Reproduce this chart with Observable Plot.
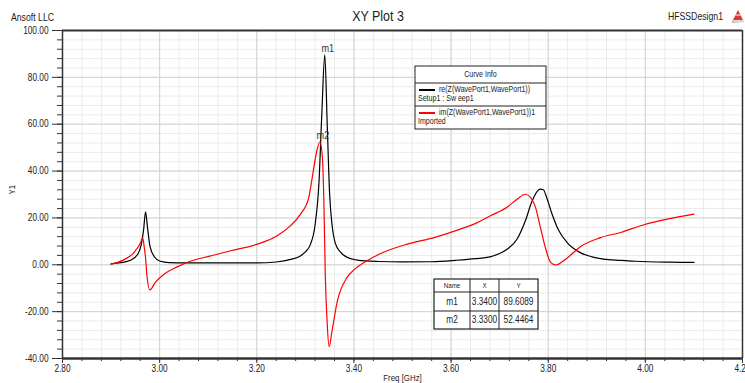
<!DOCTYPE html>
<html>
<head>
<meta charset="utf-8">
<script src="https://cdn.jsdelivr.net/npm/d3@7"></script>
<script src="https://cdn.jsdelivr.net/npm/@observablehq/plot@0.6"></script>
<style>
  html, body { margin: 0; padding: 0; background: #fff; }
  #chart { width: 745px; height: 383px; overflow: hidden; }
</style>
</head>
<body>
<div id="chart"></div>
<script>
// ---------------- data ----------------
const titleText = "XY Plot 3";
const companyText = "Ansoft LLC";
const designText = "HFSSDesign1";
const xLabel = "Freq [GHz]";
const yLabel = "Y1";

const xMajorTicks = [2.8, 3.0, 3.2, 3.4, 3.6, 3.8, 4.0, 4.2];
const yMajorTicks = [-40, -20, 0, 20, 40, 60, 80, 100];
const xMinorStep = 0.04;
const yMinorStep = 4;

// re(Z(WavePort1,WavePort1)) – Setup1 : Sweep1
const freqRe = [2.90, 2.92, 2.94, 2.955, 2.962, 2.967, 2.971, 2.975, 2.98, 2.99, 3.00, 3.02, 3.05, 3.10, 3.15, 3.20, 3.24, 3.27, 3.29, 3.30, 3.31, 3.32, 3.328, 3.334, 3.340, 3.345, 3.350, 3.355, 3.362, 3.372, 3.386, 3.407, 3.45, 3.50, 3.56, 3.61, 3.65, 3.68, 3.70, 3.716, 3.736, 3.753, 3.767, 3.783, 3.790, 3.798, 3.808, 3.822, 3.839, 3.866, 3.89, 3.914, 3.95, 3.98, 4.05, 4.10];
const reZ    = [0.4, 0.9, 1.9, 4.5, 8.5, 15, 22.6, 16, 8, 3.2, 1.6, 0.9, 0.8, 0.8, 0.8, 0.8, 1.2, 2.3, 3.8, 5.5, 8.5, 17, 35, 65, 89.6, 60, 30, 17, 9, 5.5, 3.2, 2.0, 1.4, 1.2, 1.3, 1.9, 2.6, 3.4, 4.8, 6.7, 11, 18.8, 27.3, 32.3, 32, 28, 21.6, 14.5, 9.5, 5.2, 3.4, 2.4, 1.9, 1.5, 1.1, 1.0];

// im(Z(WavePort1,WavePort1))1 – Imported
const freqIm = [2.90, 2.926, 2.947, 2.961, 2.965, 2.968, 2.971, 2.974, 2.980, 2.991, 3.009, 3.036, 3.063, 3.105, 3.146, 3.201, 3.242, 3.269, 3.29, 3.307, 3.314, 3.324, 3.330, 3.335, 3.338, 3.341, 3.345, 3.349, 3.355, 3.366, 3.386, 3.400, 3.427, 3.455, 3.510, 3.565, 3.619, 3.654, 3.681, 3.716, 3.736, 3.753, 3.764, 3.774, 3.784, 3.794, 3.805, 3.815, 3.839, 3.866, 3.908, 3.949, 3.997, 4.045, 4.10];
const imZ    = [0.3, 2.1, 5.2, 9.5, 11.5, 8, 3, -5, -10.7, -7.5, -4.0, -0.9, 1.5, 3.8, 6.0, 8.8, 12.4, 16.6, 21.6, 28.7, 37, 49, 52.4, 46, 28, -4, -25.3, -35, -28.1, -15.4, -5.4, -2.2, 1.7, 4.8, 8.8, 11.6, 15.2, 18.0, 20.9, 24.7, 28, 30.1, 28.7, 24.4, 15.9, 7.4, 1.0, -0.1, 2.9, 7.7, 11.6, 13.8, 17.1, 19.5, 21.6];

const markerNames = ["m1", "m2"];
const markerX = [3.3400, 3.3300];
const markerY = [89.6089, 52.4464];

const curveNames = ["re(Z(WavePort1,WavePort1))", "im(Z(WavePort1,WavePort1))1"];
const curveSources = ["Setup1 : Sw eep1", "Imported"];
const curveColors = ["#000000", "#ff0000"];

// ---------------- build tables ----------------
const reTable = freqRe.map((f, i) => ({freq: f, value: reZ[i]}));
const imTable = freqIm.map((f, i) => ({freq: f, value: imZ[i]}));
const markers = markerNames.map((n, i) => ({name: n, x: markerX[i], y: markerY[i]}));
const xMinor = d3.range(2.8, 4.2 + 1e-9, xMinorStep).map(v => +v.toFixed(4));
const yMinor = d3.range(-40, 100 + 1e-9, yMinorStep);

const FONT = "'Liberation Sans', Arial, sans-serif";
const INK = "#222";
const SQUEEZE = 0.83; // the reference uses a condensed sans

const plot = Plot.plot({
  width: 745,
  height: 383,
  marginLeft: 62,
  marginRight: 3,
  marginTop: 30,
  marginBottom: 25,
  x: {domain: [2.8, 4.2]},
  y: {domain: [-40, 100]},
  style: {fontFamily: FONT, fontSize: "10px", background: "#fff", color: INK, overflow: "visible"},
  marks: [
    Plot.gridX(xMinor, {stroke: "#ebebeb", strokeOpacity: 1, strokeWidth: 1}),
    Plot.gridY(yMinor, {stroke: "#ebebeb", strokeOpacity: 1, strokeWidth: 1}),
    Plot.gridX(xMajorTicks, {stroke: "#d2d2d2", strokeOpacity: 1, strokeWidth: 1}),
    Plot.gridY(yMajorTicks, {stroke: "#d2d2d2", strokeOpacity: 1, strokeWidth: 1}),
    Plot.line(reTable, {x: "freq", y: "value", stroke: curveColors[0], strokeWidth: 1.2, curve: "monotone-x"}),
    Plot.line(imTable, {x: "freq", y: "value", stroke: curveColors[1], strokeWidth: 1.2, curve: "monotone-x"}),
    // frame lines
    Plot.ruleY([100], {stroke: "#333", strokeWidth: 2}),
    Plot.ruleX([4.2], {stroke: "#333", strokeWidth: 1.5}),
    Plot.ruleX([2.8], {stroke: "#333", strokeWidth: 1.5}),
    Plot.ruleY([-40], {stroke: "#333", strokeWidth: 2.5}),
    // axes
    Plot.axisX(xMinor, {tickSize: 3, tickFormat: () => "", label: null, stroke: "#333"}),
    Plot.axisX(xMajorTicks, {tickSize: 5, tickPadding: 1, tickFormat: d => d.toFixed(2), label: null, stroke: "#333", fontSize: 10}),
    Plot.axisY(yMinor, {tickSize: 5, tickFormat: () => "", label: null, stroke: "#333"}),
    Plot.axisY(yMajorTicks, {tickSize: 10, tickPadding: 4, tickFormat: d => d.toFixed(2), label: null, stroke: "#333", fontSize: 10}),
    // marker labels
    Plot.text(markers, {x: "x", y: "y", text: "name", dy: -6, dx: 3, fontSize: 11, fill: "#333"}),
    // axis titles
    Plot.text([xLabel], {frameAnchor: "bottom", dy: 22, fontSize: 9.5, fill: INK}),
    Plot.text([yLabel], {frameAnchor: "left", dx: -51, rotate: -90, fontSize: 9.5, fill: INK})
  ]
});

document.getElementById("chart").appendChild(plot);

// ---------------- chrome: header, legend, marker table ----------------
const svg = d3.select(plot);
const g = svg.append("g").attr("font-family", FONT).attr("fill", INK).attr("text-anchor", "start");

function label(parent, x, y, txt, size, anchor) {
  return parent.append("text").attr("x", x).attr("y", y)
    .attr("text-anchor", anchor || "start")
    .attr("dominant-baseline", "middle")
    .attr("font-size", size).text(txt);
}

label(g, 378, 17, titleText, 15, "middle");
label(g, 11, 18, companyText, 10.5, "start");
label(g, 723, 17, designText, 10.5, "end");

// small logo
const logo = g.append("g").attr("transform", "translate(738,10)");
logo.append("path").attr("d", "M0,0 L5,10 L-5,10 Z").attr("fill", "#d9363e");
logo.append("path").attr("d", "M-2.5,5 L2.5,5").attr("stroke", "#fff").attr("stroke-width", 1);
logo.append("text").attr("x", 0).attr("y", 13).attr("text-anchor", "middle")
  .attr("font-size", 3).attr("fill", "#888").text("ANSOFT");

// legend box
const L = {x: 415, y: 66, w: 131, h: 63};
const lg = g.append("g");
lg.append("rect").attr("x", L.x).attr("y", L.y).attr("width", L.w).attr("height", L.h)
  .attr("fill", "#fff").attr("stroke", "#222").attr("stroke-width", 1);
label(lg, L.x + L.w / 2, 75, "Curve Info", 8.5, "middle");
[83, 106].forEach(yy => lg.append("line").attr("x1", L.x).attr("x2", L.x + L.w)
  .attr("y1", yy).attr("y2", yy).attr("stroke", "#222").attr("stroke-width", 1));
curveNames.forEach((name, i) => {
  const y0 = 90 + i * 23;
  lg.append("line").attr("x1", 419).attr("x2", 435).attr("y1", y0).attr("y2", y0)
    .attr("stroke", curveColors[i]).attr("stroke-width", 2);
  label(lg, 439, y0, name, 8.5, "start");
  label(lg, 418, y0 + 8.5, curveSources[i], 8.5, "start");
});

// marker table
const cols = [434, 470, 499, 538];
const rows = [279, 292, 311, 329];
const tg = g.append("g");
tg.append("rect").attr("x", cols[0]).attr("y", rows[0]).attr("width", cols[3] - cols[0])
  .attr("height", rows[3] - rows[0]).attr("fill", "#fff").attr("stroke", "#222").attr("stroke-width", 1.2);
[cols[1], cols[2]].forEach(cx => tg.append("line").attr("x1", cx).attr("x2", cx)
  .attr("y1", rows[0]).attr("y2", rows[3]).attr("stroke", "#222").attr("stroke-width", 1));
[rows[1], rows[2]].forEach(ry => tg.append("line").attr("x1", cols[0]).attr("x2", cols[3])
  .attr("y1", ry).attr("y2", ry).attr("stroke", "#222").attr("stroke-width", 1));
const header = ["Name", "X", "Y"];
header.forEach((h, j) => label(tg, (cols[j] + cols[j + 1]) / 2, (rows[0] + rows[1]) / 2 + 0.5, h, 7.5, "middle"));
markers.forEach((m, i) => {
  const cy = (rows[i + 1] + rows[i + 2]) / 2 + 0.5;
  [m.name, m.x.toFixed(4), m.y.toFixed(4)].forEach((t, j) =>
    label(tg, (cols[j] + cols[j + 1]) / 2, cy, t, 10, "middle"));
});

// condense all text horizontally about its anchor point (x only)
svg.selectAll("text").each(function () {
  const el = d3.select(this);
  if (el.text() === "ANSOFT") return;
  const xa = el.attr("x");
  const x = (xa && !/em/.test(xa)) ? (parseFloat(xa) || 0) : 0;
  const t = el.attr("transform") || "";
  el.attr("transform", `${t} translate(${x},0) scale(${SQUEEZE},1) translate(${-x},0)`.trim());
});
</script>
</body>
</html>
